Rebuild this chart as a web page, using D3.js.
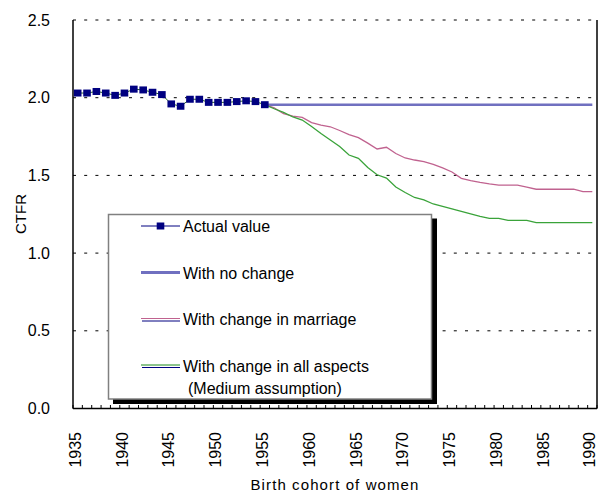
<!DOCTYPE html>
<html>
<head>
<meta charset="utf-8">
<script src="https://cdn.jsdelivr.net/npm/d3@7"></script>
<style>
  html, body { margin: 0; padding: 0; background: #fff; }
  svg { display: block; font-family: "Liberation Sans", Arial, sans-serif; }
</style>
</head>
<body>
<svg id="chart" width="600" height="495"></svg>
<script>
// Birth cohorts on the category axis
const years = d3.range(1935, 1991);
const tickLabels = ["1935", "1940", "1945", "1950", "1955", "1960", "1965", "1970", "1975", "1980", "1985", "1990"];
const yTicks = [0, 0.5, 1.0, 1.5, 2.0, 2.5];

// Observed completed fertility, cohorts 1935-1955
const actualYears = d3.range(1935, 1956);
const actualValues = [2.03, 2.03, 2.04, 2.03, 2.015, 2.03, 2.055, 2.05, 2.035, 2.02, 1.96,
                      1.945, 1.99, 1.99, 1.97, 1.97, 1.97, 1.975, 1.98, 1.975, 1.955];

// Projections, cohorts 1955-1990
const projYears = d3.range(1955, 1991);
const noChangeValues = [1.955, 1.955, 1.955, 1.955, 1.955, 1.955, 1.955, 1.955, 1.955, 1.955,
                        1.955, 1.955, 1.955, 1.955, 1.955, 1.955, 1.955, 1.955, 1.955, 1.955,
                        1.955, 1.955, 1.955, 1.955, 1.955, 1.955, 1.955, 1.955, 1.955, 1.955,
                        1.955, 1.955, 1.955, 1.955, 1.955, 1.955];
const marriageValues = [1.955, 1.934, 1.897, 1.882, 1.873, 1.840, 1.824, 1.813, 1.789, 1.763,
                        1.743, 1.708, 1.670, 1.681, 1.641, 1.612, 1.599, 1.589, 1.571, 1.548,
                        1.522, 1.481, 1.467, 1.455, 1.445, 1.438, 1.438, 1.438, 1.425, 1.411,
                        1.411, 1.411, 1.411, 1.411, 1.395, 1.395];
const allAspectsValues = [1.955, 1.929, 1.905, 1.876, 1.856, 1.815, 1.770, 1.728, 1.686, 1.631,
                          1.610, 1.551, 1.504, 1.483, 1.425, 1.390, 1.358, 1.342, 1.316, 1.300,
                          1.284, 1.268, 1.252, 1.236, 1.224, 1.224, 1.211, 1.211, 1.211, 1.196,
                          1.196, 1.196, 1.196, 1.196, 1.196, 1.196];

const legendLabels = ["Actual value", "With no change", "With change in marriage",
                      "With change in all aspects", "(Medium assumption)"];

const colors = {
  navy: "#000080",
  noChange: "#7070c0",
  marriage: "#c0628f",
  allAspects: "#3aa33a",
  actualLine: "#2a602a"
};

const svg = d3.select("#chart");
const plot = { left: 73, right: 597, top: 20, bottom: 408.5 };

const x = d3.scaleBand().domain(years).range([plot.left, plot.right]).padding(0);
const cx = d => x(d) + x.bandwidth() / 2;
const y = d3.scaleLinear().domain([0, 2.5]).range([plot.bottom, plot.top]);

// Dotted horizontal gridlines
svg.append("g")
  .selectAll("line")
  .data(yTicks.filter(v => v > 0))
  .join("line")
  .attr("x1", plot.left).attr("x2", plot.right)
  .attr("y1", d => y(d)).attr("y2", d => y(d))
  .attr("stroke", "#000").attr("stroke-width", 1)
  .attr("stroke-dasharray", "3,8.2");

// Y axis labels
const yAxis = d3.axisLeft(y).tickValues(yTicks).tickFormat(d3.format(".1f")).tickSize(0).tickPadding(23);
svg.append("g")
  .attr("transform", `translate(${plot.left},0)`)
  .call(yAxis)
  .call(g => g.select(".domain").remove())
  .call(g => g.selectAll("text").attr("font-size", 16).attr("fill", "#000")
    .attr("font-family", "Liberation Sans, Arial, sans-serif"));

// Frame: left, right and bottom solid lines
svg.append("line").attr("x1", plot.left).attr("x2", plot.left)
  .attr("y1", plot.top).attr("y2", plot.bottom).attr("stroke", "#000").attr("stroke-width", 1.5);
svg.append("line").attr("x1", plot.right).attr("x2", plot.right)
  .attr("y1", plot.top).attr("y2", plot.bottom).attr("stroke", "#000").attr("stroke-width", 1.5);

// Category axis: boundary tick marks pointing into the plot
const boundaries = years.map(d => x(d)).concat([plot.right]);
svg.append("g").selectAll("line").data(boundaries).join("line")
  .attr("x1", d => d).attr("x2", d => d)
  .attr("y1", plot.bottom).attr("y2", plot.bottom - 3.5)
  .attr("stroke", "#000").attr("stroke-width", 1);
svg.append("line").attr("x1", plot.left).attr("x2", plot.right)
  .attr("y1", plot.bottom).attr("y2", plot.bottom).attr("stroke", "#000").attr("stroke-width", 1.5);

// Rotated year labels
const xAxis = d3.axisBottom(x).tickValues(tickLabels.map(Number)).tickSize(0).tickFormat(d => String(d));
svg.append("g")
  .attr("transform", `translate(0,${plot.bottom})`)
  .call(xAxis)
  .call(g => g.select(".domain").remove())
  .call(g => g.selectAll("text")
    .attr("font-size", 16).attr("fill", "#000")
    .attr("font-family", "Liberation Sans, Arial, sans-serif")
    .attr("text-anchor", "end")
    .attr("transform", "translate(-2.5,23.5) rotate(-90)")
    .attr("x", 0).attr("y", 0).attr("dy", "0.35em"));

// Axis titles
svg.append("text").attr("x", 335).attr("y", 490).attr("text-anchor", "middle")
  .attr("font-size", 15).attr("letter-spacing", 1.1).text("Birth cohort of women");
svg.append("text").attr("transform", "translate(26,214) rotate(-90)")
  .attr("text-anchor", "middle").attr("font-size", 15).text("CTFR");

// Series lines
const lineGen = d3.line().x(d => cx(d[0])).y(d => y(d[1]));

svg.append("path")
  .datum(projYears.map((d, i) => [d, noChangeValues[i]]))
  .attr("d", lineGen).attr("fill", "none")
  .attr("stroke", colors.noChange).attr("stroke-width", 2.5);

svg.append("path")
  .datum(projYears.map((d, i) => [d, marriageValues[i]]))
  .attr("d", lineGen).attr("fill", "none")
  .attr("stroke", colors.marriage).attr("stroke-width", 1.3);

svg.append("path")
  .datum(projYears.map((d, i) => [d, allAspectsValues[i]]))
  .attr("d", lineGen).attr("fill", "none")
  .attr("stroke", colors.allAspects).attr("stroke-width", 1.3);

const actualData = actualYears.map((d, i) => [d, actualValues[i]]);
svg.append("path")
  .datum(actualData)
  .attr("d", lineGen).attr("fill", "none")
  .attr("stroke", colors.actualLine).attr("stroke-width", 1);

svg.append("g").selectAll("rect").data(actualData).join("rect")
  .attr("x", d => cx(d[0]) - 3.8).attr("y", d => y(d[1]) - 3.5)
  .attr("width", 7.6).attr("height", 7)
  .attr("fill", colors.navy);

// Legend with drop shadow
const lg = svg.append("g");
lg.append("rect").attr("x", 113).attr("y", 218.5).attr("width", 324).attr("height", 185.5).attr("fill", "#000");
lg.append("rect").attr("x", 108.5).attr("y", 214.5).attr("width", 323).attr("height", 184.5)
  .attr("fill", "#fff").attr("stroke", "#808080").attr("stroke-width", 1.5);

const lx1 = 141, lx2 = 180, tx = 183;
// Actual value
lg.append("line").attr("x1", lx1).attr("x2", lx2).attr("y1", 226).attr("y2", 226)
  .attr("stroke", colors.navy).attr("stroke-width", 1);
lg.append("rect").attr("x", 160.5 - 3.8).attr("y", 226 - 3.5).attr("width", 7.6).attr("height", 7).attr("fill", colors.navy);
// With no change
lg.append("line").attr("x1", lx1).attr("x2", lx2).attr("y1", 272.5).attr("y2", 272.5)
  .attr("stroke", colors.noChange).attr("stroke-width", 3);
// With change in marriage
lg.append("line").attr("x1", lx1).attr("x2", lx2).attr("y1", 318.5).attr("y2", 318.5)
  .attr("stroke", colors.marriage).attr("stroke-width", 1);
lg.append("line").attr("x1", lx1 + 1).attr("x2", lx2).attr("y1", 321).attr("y2", 321)
  .attr("stroke", colors.navy).attr("stroke-width", 1);
// With change in all aspects
lg.append("line").attr("x1", lx1).attr("x2", lx2).attr("y1", 365).attr("y2", 365)
  .attr("stroke", "#1a8a1a").attr("stroke-width", 1);
lg.append("line").attr("x1", lx1 + 1).attr("x2", lx2).attr("y1", 367.5).attr("y2", 367.5)
  .attr("stroke", colors.navy).attr("stroke-width", 1);

const textRows = [
  { t: legendLabels[0], x: tx, y: 232 },
  { t: legendLabels[1], x: tx, y: 278.5 },
  { t: legendLabels[2], x: tx, y: 325 },
  { t: legendLabels[3], x: tx, y: 371.5 },
  { t: legendLabels[4], x: 188, y: 393.5 }
];
lg.selectAll("text.lbl").data(textRows).join("text")
  .attr("class", "lbl")
  .attr("x", d => d.x).attr("y", d => d.y)
  .attr("font-size", 16).attr("fill", "#000")
  .text(d => d.t);
</script>
</body>
</html>
